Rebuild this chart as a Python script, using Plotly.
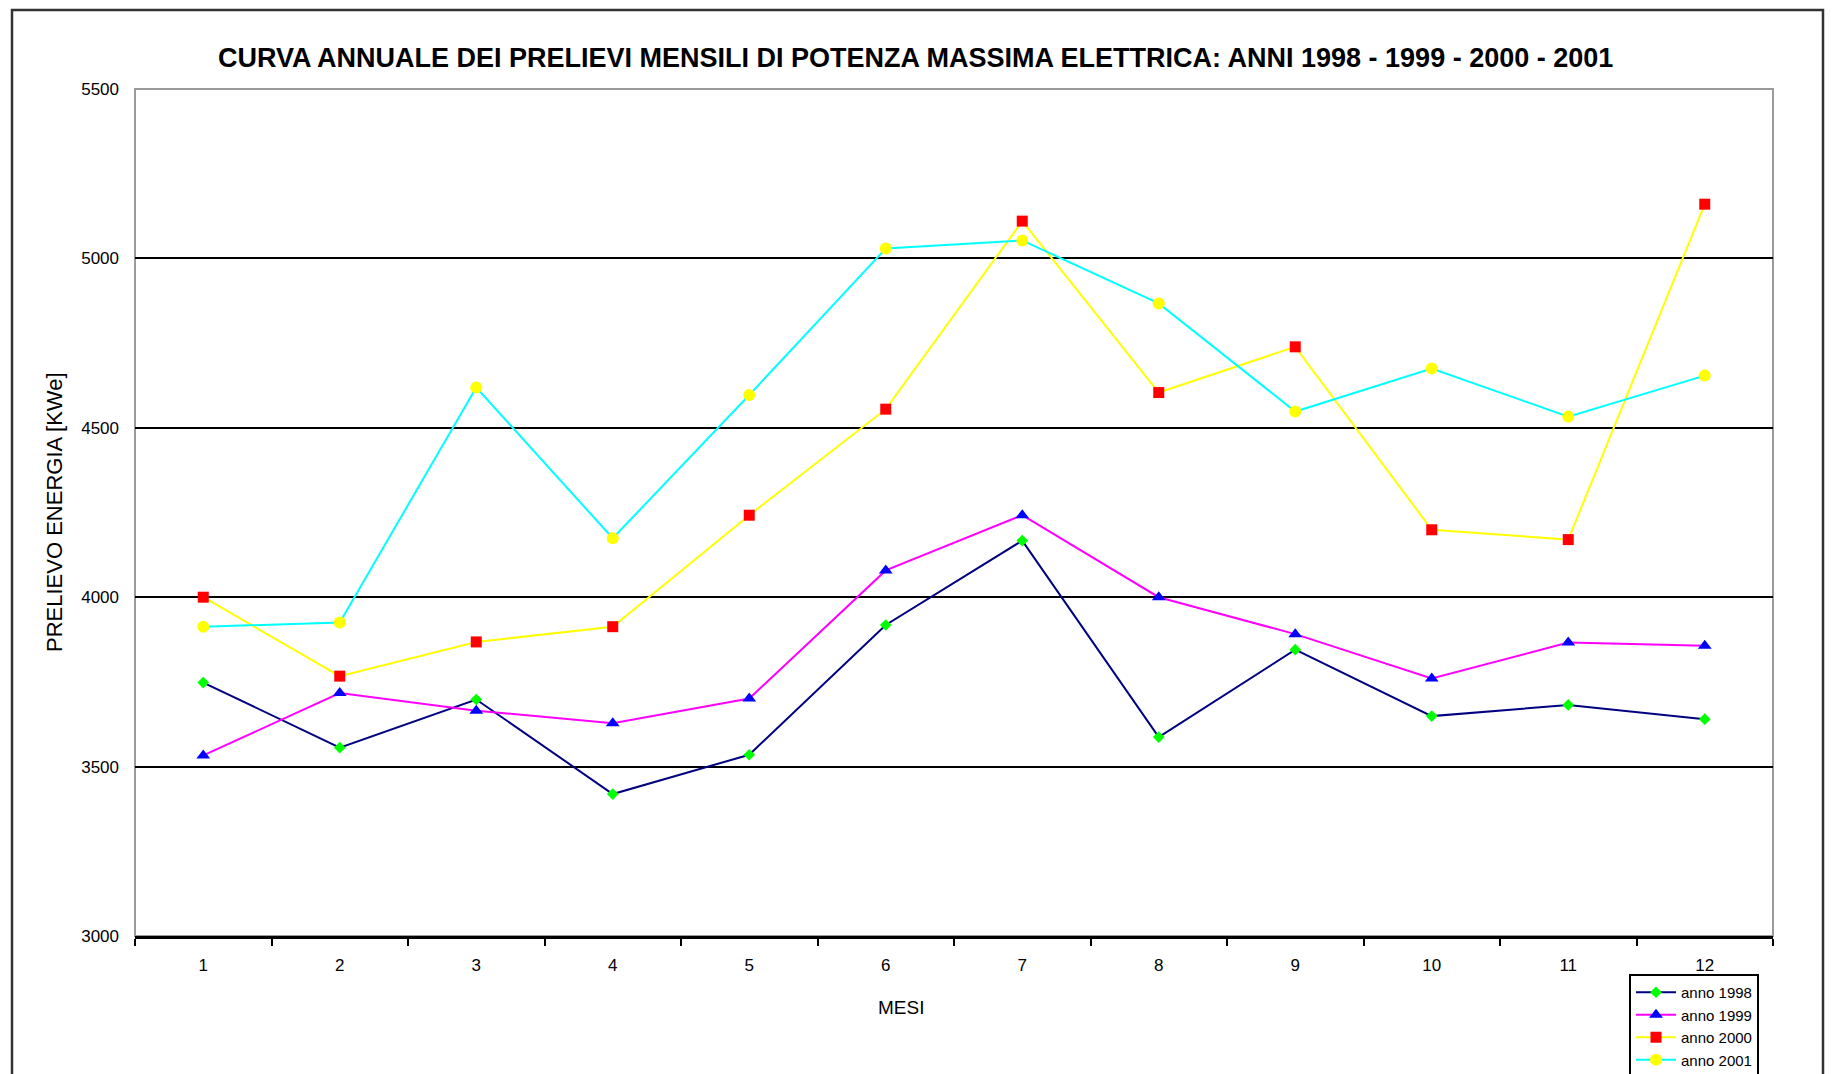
import plotly.graph_objects as go

months = ["1", "2", "3", "4", "5", "6", "7", "8", "9", "10", "11", "12"]
anno_1998 = [3748, 3556, 3698, 3419, 3535, 3918, 4167, 3587, 3845, 3649, 3682, 3640]
anno_1999 = [3533, 3717, 3665, 3628, 3701, 4079, 4242, 4000, 3891, 3760, 3866, 3857]
anno_2000 = [4000, 3767, 3868, 3913, 4242, 4555, 5110, 4604, 4739, 4199, 4170, 5160]
anno_2001 = [3913, 3925, 4619, 4174, 4597, 5029, 5053, 4867, 4548, 4675, 4533, 4654]
y_ticks = [3000, 3500, 4000, 4500, 5000, 5500]

OFF = 8  # page body margin
W, H = 1833 - 2 * OFF, 1074 - OFF
# plot area in screenshot pixels
L, R, T, B = 135, 1773, 89, 936

def px(xp):
    return (xp - L) / (R - L)

def py(yp):
    return (B - yp) / (B - T)

fig = go.Figure()
series = [
    ("anno 1998", anno_1998, "#000080", "#00FF00", "diamond", 9),
    ("anno 1999", anno_1999, "#FF00FF", "#0000FF", "triangle-up", 12),
    ("anno 2000", anno_2000, "#FFFF00", "#FF0000", "square", 11),
    ("anno 2001", anno_2001, "#00FFFF", "#FFFF00", "circle", 12),
]
for name, vals, lc, mc, sym, ms in series:
    fig.add_trace(go.Scatter(
        x=months, y=vals, name=name, mode="lines+markers",
        line=dict(color=lc, width=2),
        marker=dict(color=mc, symbol=sym, size=ms, line=dict(width=0)),
    ))

fig.add_shape(type="rect", xref="paper", yref="paper", x0=0, x1=1, y0=0, y1=1,
              line=dict(color="#9a9a9a", width=2), layer="below")
fig.add_shape(type="rect", xref="paper", yref="paper",
              x0=px(12), x1=px(1823), y0=py(1120), y1=py(10),
              line=dict(color="#333333", width=2.5), layer="below")

fig.update_layout(
    width=W, height=H,
    margin=dict(l=L - OFF, r=W - (R - OFF), t=T - OFF, b=H - (B - OFF), autoexpand=False),
    paper_bgcolor="white", plot_bgcolor="white",
    font=dict(family="Liberation Sans, Arial, sans-serif", color="black"),
    showlegend=True,
    legend=dict(
        x=px(1629), y=py(974), xanchor="left", yanchor="top",
        bordercolor="black", borderwidth=2, bgcolor="white",
        font=dict(size=15, family="Liberation Sans, Arial, sans-serif"),
        itemwidth=40, tracegroupgap=0,
    ),
    annotations=[
        dict(text="<b>CURVA ANNUALE DEI PRELIEVI MENSILI DI POTENZA MASSIMA ELETTRICA: ANNI 1998 - 1999 - 2000 - 2001</b>",
             xref="paper", yref="paper", x=px(915), y=py(58), xanchor="center", yanchor="middle",
             showarrow=False, font=dict(size=27, family="Liberation Sans, Arial")),
        dict(text="MESI", xref="paper", yref="paper", x=px(901), y=py(1008),
             xanchor="center", yanchor="middle", showarrow=False,
             font=dict(size=19, family="Liberation Sans, Arial")),
        dict(text="PRELIEVO ENERGIA [KWe]", xref="paper", yref="paper", x=px(55), y=py(512),
             xanchor="center", yanchor="middle", showarrow=False, textangle=-90,
             font=dict(size=22, family="Liberation Sans, Arial")),
    ],
)
fig.update_xaxes(
    type="category", tickson="boundaries", ticks="outside", ticklen=7,
    tickcolor="black", tickwidth=2,
    showline=True, linecolor="black", linewidth=3,
    showgrid=False, tickfont=dict(size=17, family="Liberation Sans, Arial"),
    ticklabelstandoff=12,
    range=[-0.5, 11.5],
)
fig.update_yaxes(
    range=[3000, 5500], tickvals=y_ticks, ticktext=[str(v) for v in y_ticks],
    showgrid=True, gridcolor="black", gridwidth=2,
    showline=False, zeroline=False, ticks="", ticklabelstandoff=15,
    tickfont=dict(size=17, family="Liberation Sans, Arial"),
)
fig.write_html("out.html")
